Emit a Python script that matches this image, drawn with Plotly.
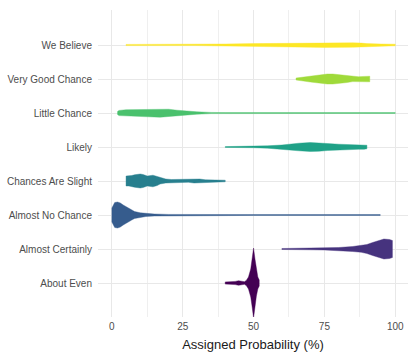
import plotly.graph_objects as go

categories = ["About Even", "Almost Certainly", "Almost No Chance", "Chances Are Slight",
              "Likely", "Little Chance", "Very Good Chance", "We Believe"]
colors = ["#440154", "#46337E", "#365C8D", "#277F8E", "#1FA187", "#4AC16D", "#9FDA3A", "#FDE725"]

# density profiles: probability grid and relative density (half-width)
about_even_x = [40, 42, 43.5, 44.7, 46, 46.8, 47.5, 48.2, 49, 49.5, 50, 50.5, 51, 51.5, 52]
about_even_d = [1.1, 1.1, 1.6, 2.3, 1.8, 1.3, 2.8, 6, 14, 24, 35, 24, 13, 6, 3]

almost_certainly_x = [60, 65, 70, 75, 80, 85, 88, 90, 92, 94, 96, 98, 99]
almost_certainly_d = [0.5, 0.6, 0.8, 1.0, 1.5, 2.5, 3.3, 4.5, 6.5, 8.5, 10, 9.5, 8.5]

almost_no_chance_x = [0, 0.4, 1, 2, 3, 4, 5, 6, 7, 8, 10, 12, 15, 20, 30, 50, 70, 90, 94.7]
almost_no_chance_d = [7, 10, 12.5, 13, 12, 10, 8.5, 6.5, 5, 3.5, 2.2, 1.5, 1.0, 0.6, 0.4, 0.4, 0.4, 0.4, 0.5]

chances_slight_x = [5, 6, 7, 8, 10, 11, 12.5, 14.5, 16, 17, 19, 21, 23, 25, 27, 29, 31, 33, 36, 40]
chances_slight_d = [5.0, 5.0, 5.5, 6.2, 7.0, 6.5, 5.0, 5.8, 4.5, 3.0, 2.0, 1.5, 1.5, 1.3, 1.3, 2.0, 2.0, 1.2, 1.0, 0.8]

likely_x = [40, 45, 50, 55, 60, 63, 66, 70, 73, 76, 80, 84, 87, 89, 90]
likely_d = [0.4, 0.5, 0.7, 1.2, 2.0, 3.0, 3.8, 4.5, 4.3, 3.5, 2.8, 2.5, 2.3, 2.3, 1.8]

little_chance_x = [2, 2.5, 5, 8, 10, 13, 17, 20, 23, 26, 30, 35, 40, 60, 80, 100]
little_chance_d = [1.5, 2.6, 3.3, 3.4, 3.5, 3.8, 4.2, 3.8, 2.8, 2.0, 1.2, 0.6, 0.4, 0.4, 0.4, 0.4]

very_good_x = [65, 67, 70, 73, 76, 78, 80, 83, 85, 87, 89, 90.5, 91]
very_good_d = [1.0, 1.8, 3.0, 4.2, 5.0, 5.0, 4.5, 3.5, 2.6, 2.3, 2.6, 2.8, 2.8]

we_believe_x = [5, 10, 20, 30, 35, 40, 50, 55, 60, 65, 70, 75, 80, 85, 88, 90, 95, 100]
we_believe_d = [0.6, 0.6, 0.6, 0.6, 0.8, 1.0, 1.4, 1.6, 1.9, 2.1, 2.2, 2.4, 2.5, 2.2, 1.9, 1.4, 1.0, 0.8]

profiles = [
    (about_even_x, about_even_d),
    (almost_certainly_x, almost_certainly_d),
    (almost_no_chance_x, almost_no_chance_d),
    (chances_slight_x, chances_slight_d),
    (likely_x, likely_d),
    (little_chance_x, little_chance_d),
    (very_good_x, very_good_d),
    (we_believe_x, we_believe_d),
]

SCALE = 1 / 34.0  # density units -> category units

fig = go.Figure()
for i, (cat, col, (xs, ds)) in enumerate(zip(categories, colors, profiles)):
    upper = [i + d * SCALE for d in ds]
    lower = [i - d * SCALE for d in ds]
    px = list(xs) + list(xs)[::-1] + [xs[0]]
    py = upper + lower[::-1] + [upper[0]]
    fig.add_trace(go.Scatter(
        x=px, y=py, mode="lines", fill="toself", fillcolor=col,
        line=dict(color=col, width=0.4), name=cat, showlegend=False,
        hoverinfo="skip",
    ))

fig.update_layout(
    width=413, height=360,
    margin=dict(l=98, r=5, t=10, b=43),
    paper_bgcolor="white", plot_bgcolor="white",
    font=dict(family="Liberation Sans, Arial, sans-serif", size=10, color="#4d4d4d"),
    showlegend=False,
)
fig.update_xaxes(
    range=[-4.9, 104.5], tickvals=[0, 25, 50, 75, 100], ticktext=["0", "25", "50", "75", "100"],
    showgrid=True, gridcolor="#e8e8e8", gridwidth=1, zeroline=False, showline=False,
    ticks="", ticklabelstandoff=2, tickfont=dict(size=10, color="#4d4d4d"),
    minor=dict(dtick=12.5, tick0=0, showgrid=True, gridcolor="#efefef", gridwidth=0.7),
    title=dict(text="Assigned Probability (%)", font=dict(size=13, color="#1a1a1a"), standoff=8),
)
fig.update_yaxes(
    range=[-1.0, 8.03], tickvals=list(range(len(categories))), ticktext=categories,
    showgrid=True, gridcolor="#e8e8e8", gridwidth=1, zeroline=False, showline=False,
    ticks="", ticklabelstandoff=5, tickfont=dict(size=10, color="#4d4d4d"),
)

fig.write_html("out.html", config={"displayModeBar": False},
               post_script="document.body.style.margin='0';")
